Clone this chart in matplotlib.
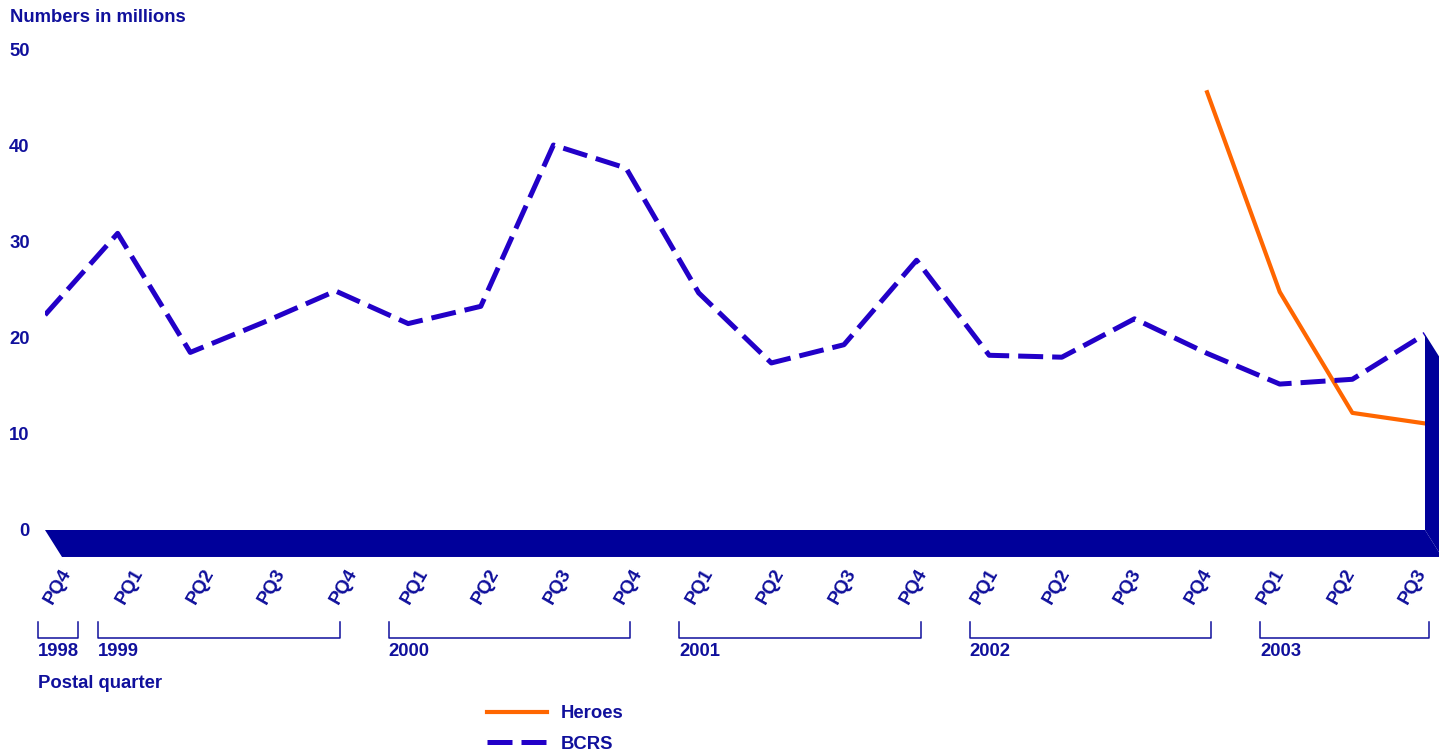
import numpy as np
import matplotlib
matplotlib.use("Agg")
import matplotlib.pyplot as plt
from matplotlib.patches import Polygon
from matplotlib.transforms import blended_transform_factory

quarters = ["PQ4", "PQ1", "PQ2", "PQ3", "PQ4", "PQ1", "PQ2", "PQ3", "PQ4", "PQ1",
            "PQ2", "PQ3", "PQ4", "PQ1", "PQ2", "PQ3", "PQ4", "PQ1", "PQ2", "PQ3"]
years = ["1998", "1999", "2000", "2001", "2002", "2003"]
year_first = [0, 1, 5, 9, 13, 17]
year_last = [0, 4, 8, 12, 16, 19]

bcrs = [22.4, 30.9, 18.5, 21.6, 24.9, 21.5, 23.3, 40.1, 37.7, 24.7,
        17.4, 19.3, 28.1, 18.2, 18.0, 22.0, 18.4, 15.2, 15.7, 20.4]
heroes_x = [16, 17, 18, 19]
heroes = [45.6, 24.8, 12.2, 11.1]
yticks = [0, 10, 20, 30, 40, 50]

NAVY = "#00009a"
TEXT = "#10109c"
BLUE = "#2200c8"
ORANGE = "#ff6600"

plt.rcParams['font.family'] = ['Liberation Sans', 'DejaVu Sans']
plt.rcParams['font.weight'] = 'bold'
FS = 13.3

W, H = 1439, 750
fig = plt.figure(figsize=(W / 100, H / 100), dpi=100)
ax = fig.add_axes([45 / W, 220 / H, 1380 / W, 480 / H])
ax.set_xlim(0, 19)
ax.set_ylim(0, 50)
for s in ax.spines.values():
    s.set_visible(False)

x = np.arange(len(bcrs))
ax.plot(heroes_x, heroes, color=ORANGE, lw=3.0, label="Heroes", zorder=3)
ax.plot(x, bcrs, color=BLUE, lw=3.6, dashes=(5, 1.8), dash_capstyle='butt',
        label="BCRS", zorder=3)

# 3D floor and right wall
dx, dy = 0.234, 2.81
floor = Polygon([(0, 0), (19, 0), (19 + dx, -dy), (dx, -dy)], closed=True,
                color=NAVY, clip_on=False, zorder=2, lw=0)
wall = Polygon([(19, 0), (19, bcrs[-1]), (19 + dx, bcrs[-1] - dy), (19 + dx, -dy)],
               closed=True, color=NAVY, clip_on=False, zorder=2, lw=0)
ax.add_patch(floor)
ax.add_patch(wall)

ax.set_yticks(yticks)
ax.set_yticklabels([str(v) for v in yticks], fontsize=FS, fontweight='bold', color=TEXT)
ax.tick_params(axis='y', length=0, pad=11)
ax.set_xticks([])

trans = blended_transform_factory(ax.transData, fig.transFigure)
for i, q in enumerate(quarters):
    fig.text(i * 0.982 + 0.18, (H - 586) / H, q, transform=trans, rotation=60,
             ha='center', va='center', fontsize=FS + 0.4, fontweight='bold', color=TEXT)

for yr, a, b in zip(years, year_first, year_last):
    x0 = a - 0.27
    x1 = b + 0.06
    if a == b:
        x0, x1 = a - 0.1, a + 0.45
    ytop, ybot = (H - 622) / H, (H - 638) / H
    ax.plot([x0, x0, x1, x1], [ytop, ybot, ybot, ytop], transform=trans,
            color=TEXT, lw=1.1, clip_on=False)
    fig.text(x0, (H - 651) / H, yr, transform=trans, ha='left', va='center',
             fontsize=FS, fontweight='bold', color=TEXT)

fig.text(10 / W, (H - 18) / H, "Numbers in millions", ha='left', va='center',
         fontsize=FS, fontweight='bold', color=TEXT)
fig.text(38 / W, (H - 683) / H, "Postal quarter", ha='left', va='center',
         fontsize=FS, fontweight='bold', color=TEXT)

leg = ax.legend(loc='upper left', bbox_to_anchor=(480 / W, (H - 698) / H),
                bbox_transform=fig.transFigure, frameon=False, handlelength=3.2,
                handletextpad=0.75, labelspacing=0.72, borderaxespad=0,
                prop={'size': FS, 'weight': 'bold'})
for t in leg.get_texts():
    t.set_color(TEXT)

fig.savefig("out.png", dpi=100)
